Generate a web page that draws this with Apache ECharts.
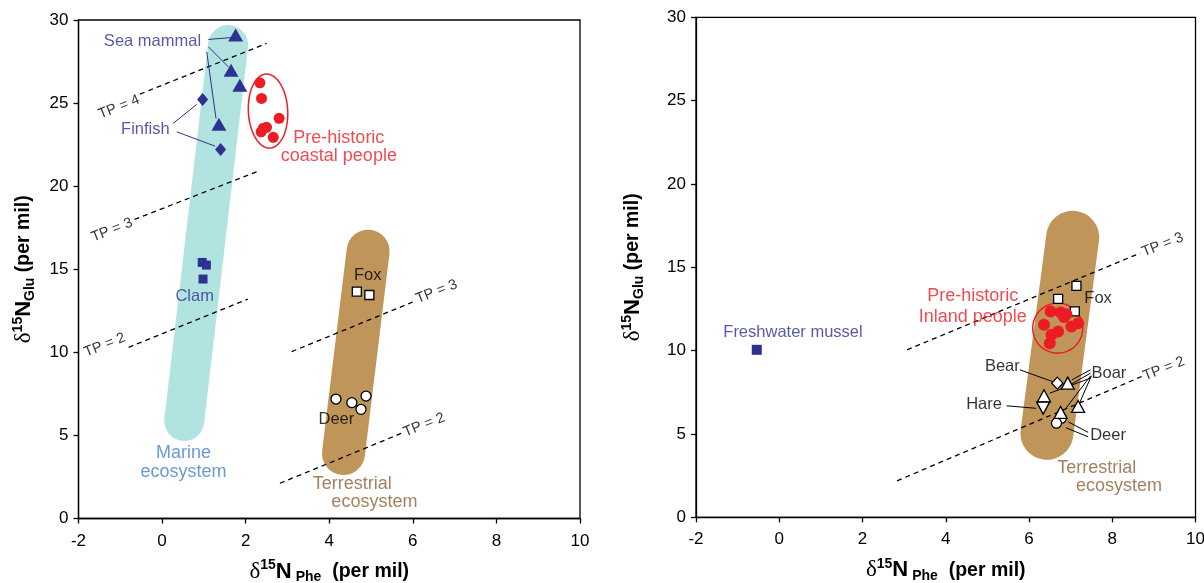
<!DOCTYPE html>
<html>
<head>
<meta charset="utf-8">
<script src="https://cdn.jsdelivr.net/npm/echarts@6/dist/echarts.min.js"></script>
<style>
html,body{margin:0;padding:0;background:#fff;overflow:hidden;}
#chart{width:1204px;height:583px;}
</style>
</head>
<body>
<div id="chart"></div>
<script>
// ---------- DATA ----------
const xTicks = [-2, 0, 2, 4, 6, 8, 10];
const yTicks = [0, 5, 10, 15, 20, 25, 30];

// Left panel (coastal)
const seaMammal = [[1.76, 29.09], [1.65, 26.97], [1.86, 26.07], [1.36, 23.72]];
const finfish = [[0.97, 25.22], [1.40, 22.21]];
const clam = [[0.96, 15.41], [1.06, 15.25], [0.98, 14.41]];
const coastalPeople = [[2.34, 26.22], [2.38, 25.28], [2.80, 24.08], [2.42, 23.48], [2.50, 23.54], [2.37, 23.27], [2.66, 22.94]];
const foxLeft = [[4.66, 13.65], [4.96, 13.45]];
const deerLeft = [[4.16, 7.19], [4.54, 6.97], [4.88, 7.37], [4.76, 6.57]];
const marineBand = [[1.58, 28.49], [0.53, 5.87]];
const terrBandLeft = [[4.93, 16.09], [4.34, 3.91]];
const coastalEllipse = [2.535, 24.52, 0.471, 2.23, -3];
const tpLinesLeft = [
  [[-0.53, 25.54], [2.50, 28.59]],
  [[-0.66, 18.0], [2.30, 20.9]],
  [[-0.80, 10.3], [2.05, 13.2]],
  [[3.10, 10.04], [6.01, 13.04]],
  [[2.82, 2.12], [5.73, 5.13]]
];
const leadersLeft = [
  [[1.106, 28.83], [1.704, 28.95]],
  [[1.106, 28.39], [1.585, 27.18]],
  [[1.068, 28.09], [1.290, 24.08]],
  [[0.268, 23.78], [0.828, 24.92]],
  [[0.350, 23.27], [1.266, 22.41]]
];

// Right panel (inland)
const freshwaterMussel = [[-0.54, 10.05]];
const inlandPeople = [[6.52, 12.35], [6.76, 12.29], [6.90, 12.19], [6.84, 12.02], [6.36, 11.55], [7.02, 11.45], [7.18, 11.65], [6.70, 11.15], [6.54, 10.95], [6.50, 10.45]];
const foxRight = [[7.14, 13.89], [6.70, 13.11], [7.10, 12.35]];
const bearRight = [[6.68, 8.05]];
const boarRight = [[6.93, 8.05], [6.36, 7.29], [6.76, 6.29], [7.18, 6.65]];
const hareRight = [[6.34, 6.55]];
const deerRight = [[6.78, 5.95], [6.66, 5.65]];
const terrBandRight = [[7.05, 16.80], [6.43, 5.04]];
const inlandEllipse = [6.69, 11.35, 0.60, 1.50, 0];
const tpLinesRight = [
  [[3.07, 10.05], [8.67, 15.85]],
  [[2.83, 2.19], [8.71, 8.45]]
];
const leadersRight = [
  [[5.78, 8.85], [6.58, 8.13]],
  [[5.46, 6.69], [6.17, 6.54]],
  [[7.48, 8.85], [7.03, 8.25]],
  [[7.48, 8.65], [7.03, 8.01]],
  [[7.48, 8.35], [6.50, 7.45]],
  [[7.48, 8.49], [6.89, 6.55]],
  [[7.50, 8.49], [7.22, 6.89]],
  [[7.42, 5.10], [6.94, 5.73]],
  [[7.42, 4.83], [6.89, 5.37]]
];

// ---------- STYLE ----------
const NAVY = '#2e3192', RED = '#ed1c24', CYAN = '#b1e3e1', BROWN = '#c0955a';
const BROWN_T = '#8c6239', BLUE_T = '#4181cc';
const FONT = "'Liberation Sans', Arial, sans-serif";

const textsLeft = [
  {t: 'Sea mammal', p: [-0.23, 28.69], c: NAVY, s: 16.5},
  {t: 'Finfish', p: [-0.40, 23.42], c: NAVY, s: 16.5},
  {t: 'Clam', p: [0.78, 13.35], c: NAVY, s: 16.5},
  {t: 'Marine\necosystem', p: [0.51, 3.37], c: BLUE_T, s: 18, lh: 18.5},
  {t: 'Pre-historic\ncoastal people', p: [4.23, 22.35], c: RED, s: 18, lh: 18.5},
  {t: 'Fox', p: [4.92, 14.65], c: '#000', s: 16.5},
  {t: 'Deer', p: [4.17, 5.97], c: '#000', s: 16.5},
  {t: 'Terrestrial', p: [4.55, 2.08], c: BROWN_T, s: 18},
  {t: 'ecosystem', p: [5.08, 1.01], c: BROWN_T, s: 18},
  {t: 'TP = 4', p: [-1.03, 24.76], c: '#000', s: 14.5, r: 21.7},
  {t: 'TP = 3', p: [-1.20, 17.36], c: '#000', s: 14.5, r: 21.7},
  {t: 'TP = 2', p: [-1.37, 10.44], c: '#000', s: 14.5, r: 21.7},
  {t: 'TP = 3', p: [6.57, 13.65], c: '#000', s: 14.5, r: 21.7},
  {t: 'TP = 2', p: [6.27, 5.63], c: '#000', s: 14.5, r: 21.7}
];
const textsRight = [
  {t: 'Freshwater mussel', p: [0.33, 11.07], c: NAVY, s: 16.5},
  {t: 'Pre-historic\nInland people', p: [4.65, 12.66], c: RED, s: 18, lh: 20.5},
  {t: 'Fox', p: [7.66, 13.11], c: '#000', s: 16.5},
  {t: 'Bear', p: [5.36, 9.05], c: '#000', s: 16.5},
  {t: 'Boar', p: [7.92, 8.65], c: '#000', s: 16.5},
  {t: 'Hare', p: [4.92, 6.75], c: '#000', s: 16.5},
  {t: 'Deer', p: [7.90, 4.89], c: '#000', s: 16.5},
  {t: 'Terrestrial', p: [7.63, 2.95], c: BROWN_T, s: 18},
  {t: 'ecosystem', p: [8.16, 1.89], c: BROWN_T, s: 18},
  {t: 'TP = 3', p: [9.21, 16.35], c: '#000', s: 14.5, r: 21.8},
  {t: 'TP = 2', p: [9.24, 8.91], c: '#000', s: 14.5, r: 21.8}
];

const nameRich = {
  d: {fontFamily: "'Liberation Serif', 'DejaVu Serif', serif", fontSize: 23, color: '#000', lineHeight: 26},
  sup: {fontFamily: FONT, fontSize: 14, fontWeight: 'bold', color: '#000', verticalAlign: 'top', lineHeight: 15},
  n: {fontFamily: FONT, fontSize: 22, fontWeight: 'bold', color: '#000', lineHeight: 26},
  sub: {fontFamily: FONT, fontSize: 14, fontWeight: 'bold', color: '#000', verticalAlign: 'bottom', lineHeight: 15},
  p: {fontFamily: FONT, fontSize: 19.5, fontWeight: 'bold', color: '#000', lineHeight: 26}
};

function xAxisDef(gi) {
  return {
    type: 'value', gridIndex: gi, min: -2, max: 10, interval: 2,
    name: '{d|δ}{sup|15}{n|N}{sub| Phe}{p|  (per mil)}',
    nameLocation: 'middle', nameGap: 40,
    nameTextStyle: {rich: nameRich},
    axisLine: {show: true, onZero: false, lineStyle: {color: '#000', width: 1.3}},
    axisTick: {show: true, inside: false, length: 5, lineStyle: {color: '#000', width: 1.3}},
    axisLabel: {color: '#000', fontSize: 17, fontFamily: FONT, margin: 14,
      formatter: v => xTicks.includes(v) ? String(v) : ''},
    splitLine: {show: false}
  };
}
function yAxisDef(gi, gap) {
  return {
    type: 'value', gridIndex: gi, min: 0, max: 30, interval: 5,
    name: '{d|δ}{sup|15}{n|N}{sub|Glu}{p| (per mil)}',
    nameLocation: 'middle', nameGap: gap, nameRotate: 90,
    nameTextStyle: {rich: nameRich},
    axisLine: {show: true, onZero: false, lineStyle: {color: '#000', width: 1.3}},
    axisTick: {show: true, inside: false, length: 5, lineStyle: {color: '#000', width: 1.3}},
    axisLabel: {color: '#000', fontSize: 17, fontFamily: FONT, margin: 10,
      formatter: v => yTicks.includes(v) ? String(v) : ''},
    splitLine: {show: false}
  };
}

function band(gi, data, color, width) {
  return {type: 'line', xAxisIndex: gi, yAxisIndex: gi, data: data, symbol: 'none', silent: true, z: 1,
    lineStyle: {color: color, width: width, cap: 'round'}, animation: false};
}
function segs(gi, list, style, z) {
  return {type: 'lines', coordinateSystem: 'cartesian2d', xAxisIndex: gi, yAxisIndex: gi, silent: true, z: z,
    data: list.map(c => ({coords: c})), lineStyle: Object.assign({opacity: 1, curveness: 0}, style), animation: false};
}
function pts(gi, data, symbol, size, fill, border, z, rot) {
  return {type: 'scatter', xAxisIndex: gi, yAxisIndex: gi, data: data, symbol: symbol, symbolSize: size,
    symbolRotate: rot || 0, silent: true, z: z || 5,
    itemStyle: {color: fill, borderColor: border || fill, borderWidth: border ? 1.3 : 0, opacity: 1}, animation: false};
}
function ellipse(gi, e) {
  return {type: 'custom', xAxisIndex: gi, yAxisIndex: gi, silent: true, z: 4, data: [e], animation: false,
    renderItem: function (params, api) {
      const c = api.coord([api.value(0), api.value(1)]);
      const rx = api.size([api.value(2), 0])[0];
      const ry = api.size([0, api.value(3)])[1];
      const a = api.value(4) * Math.PI / 180;
      const points = [];
      for (let i = 0; i < 90; i++) {
        const t = i / 90 * Math.PI * 2;
        const ex = rx * Math.cos(t), ey = ry * Math.sin(t);
        points.push([c[0] + ex * Math.cos(a) - ey * Math.sin(a), c[1] + ex * Math.sin(a) + ey * Math.cos(a)]);
      }
      return {type: 'polygon', shape: {points: points}, style: {fill: 'none', stroke: RED, lineWidth: 1.5}};
    }};
}
function texts(gi, list) {
  return {type: 'scatter', xAxisIndex: gi, yAxisIndex: gi, silent: true, z: 10, symbolSize: 1,
    itemStyle: {color: 'rgba(0,0,0,0)'}, animation: false,
    data: list.map(o => ({value: o.p, name: o.t, label: {
      show: true, position: 'inside', formatter: o.t, color: o.c, fontSize: o.s, fontFamily: FONT,
      rotate: o.r || 0, lineHeight: o.lh || o.s * 1.15, align: 'center', verticalAlign: 'middle'}}))};
}

const option = {
  backgroundColor: '#fff',
  animation: false,
  grid: [
    {left: 78.5, top: 20, width: 501.5, height: 498.5, show: true, borderColor: '#000', borderWidth: 1.3,
     backgroundColor: 'transparent', containLabel: false, outerBoundsMode: 'none'},
    {left: 696, top: 17.3, width: 499.5, height: 500, show: true, borderColor: '#000', borderWidth: 1.3,
     backgroundColor: 'transparent', containLabel: false, outerBoundsMode: 'none'}
  ],
  xAxis: [xAxisDef(0), xAxisDef(1)],
  yAxis: [yAxisDef(0, 41.5), yAxisDef(1, 50)],
  series: [
    band(0, marineBand, CYAN, 40),
    band(0, terrBandLeft, BROWN, 43),
    band(1, terrBandRight, BROWN, 53),
    segs(0, tpLinesLeft, {color: '#000', width: 1.3, type: [5, 4]}, 2),
    segs(1, tpLinesRight, {color: '#000', width: 1.3, type: [5, 4]}, 2),
    segs(0, leadersLeft, {color: NAVY, width: 1}, 3),
    segs(1, leadersRight, {color: '#000', width: 1}, 3),
    ellipse(0, coastalEllipse),
    ellipse(1, inlandEllipse),
    pts(0, seaMammal, 'triangle', [15, 13], NAVY),
    pts(0, finfish, 'diamond', [11, 13], NAVY),
    pts(0, clam, 'rect', 9, NAVY),
    pts(0, coastalPeople, 'circle', 11, RED),
    pts(0, foxLeft, 'rect', 9, '#fff', '#000'),
    pts(0, deerLeft, 'circle', 10, '#fff', '#000'),
    pts(1, freshwaterMussel, 'rect', 10, NAVY),
    pts(1, foxRight, 'rect', 9, '#fff', '#000'),
    pts(1, inlandPeople, 'circle', 12, RED, null, 6),
    pts(1, deerRight, 'circle', 10, '#fff', '#000'),
    pts(1, bearRight, 'diamond', [11, 12], '#fff', '#000'),
    pts(1, boarRight, 'triangle', [13, 12], '#fff', '#000'),
    pts(1, hareRight, 'triangle', [13, 12], '#fff', '#000', 5, 180),
    texts(0, textsLeft),
    texts(1, textsRight)
  ]
};

const chart = echarts.init(document.getElementById('chart'), null, {renderer: 'canvas'});
chart.setOption(option);
</script>
</body>
</html>
